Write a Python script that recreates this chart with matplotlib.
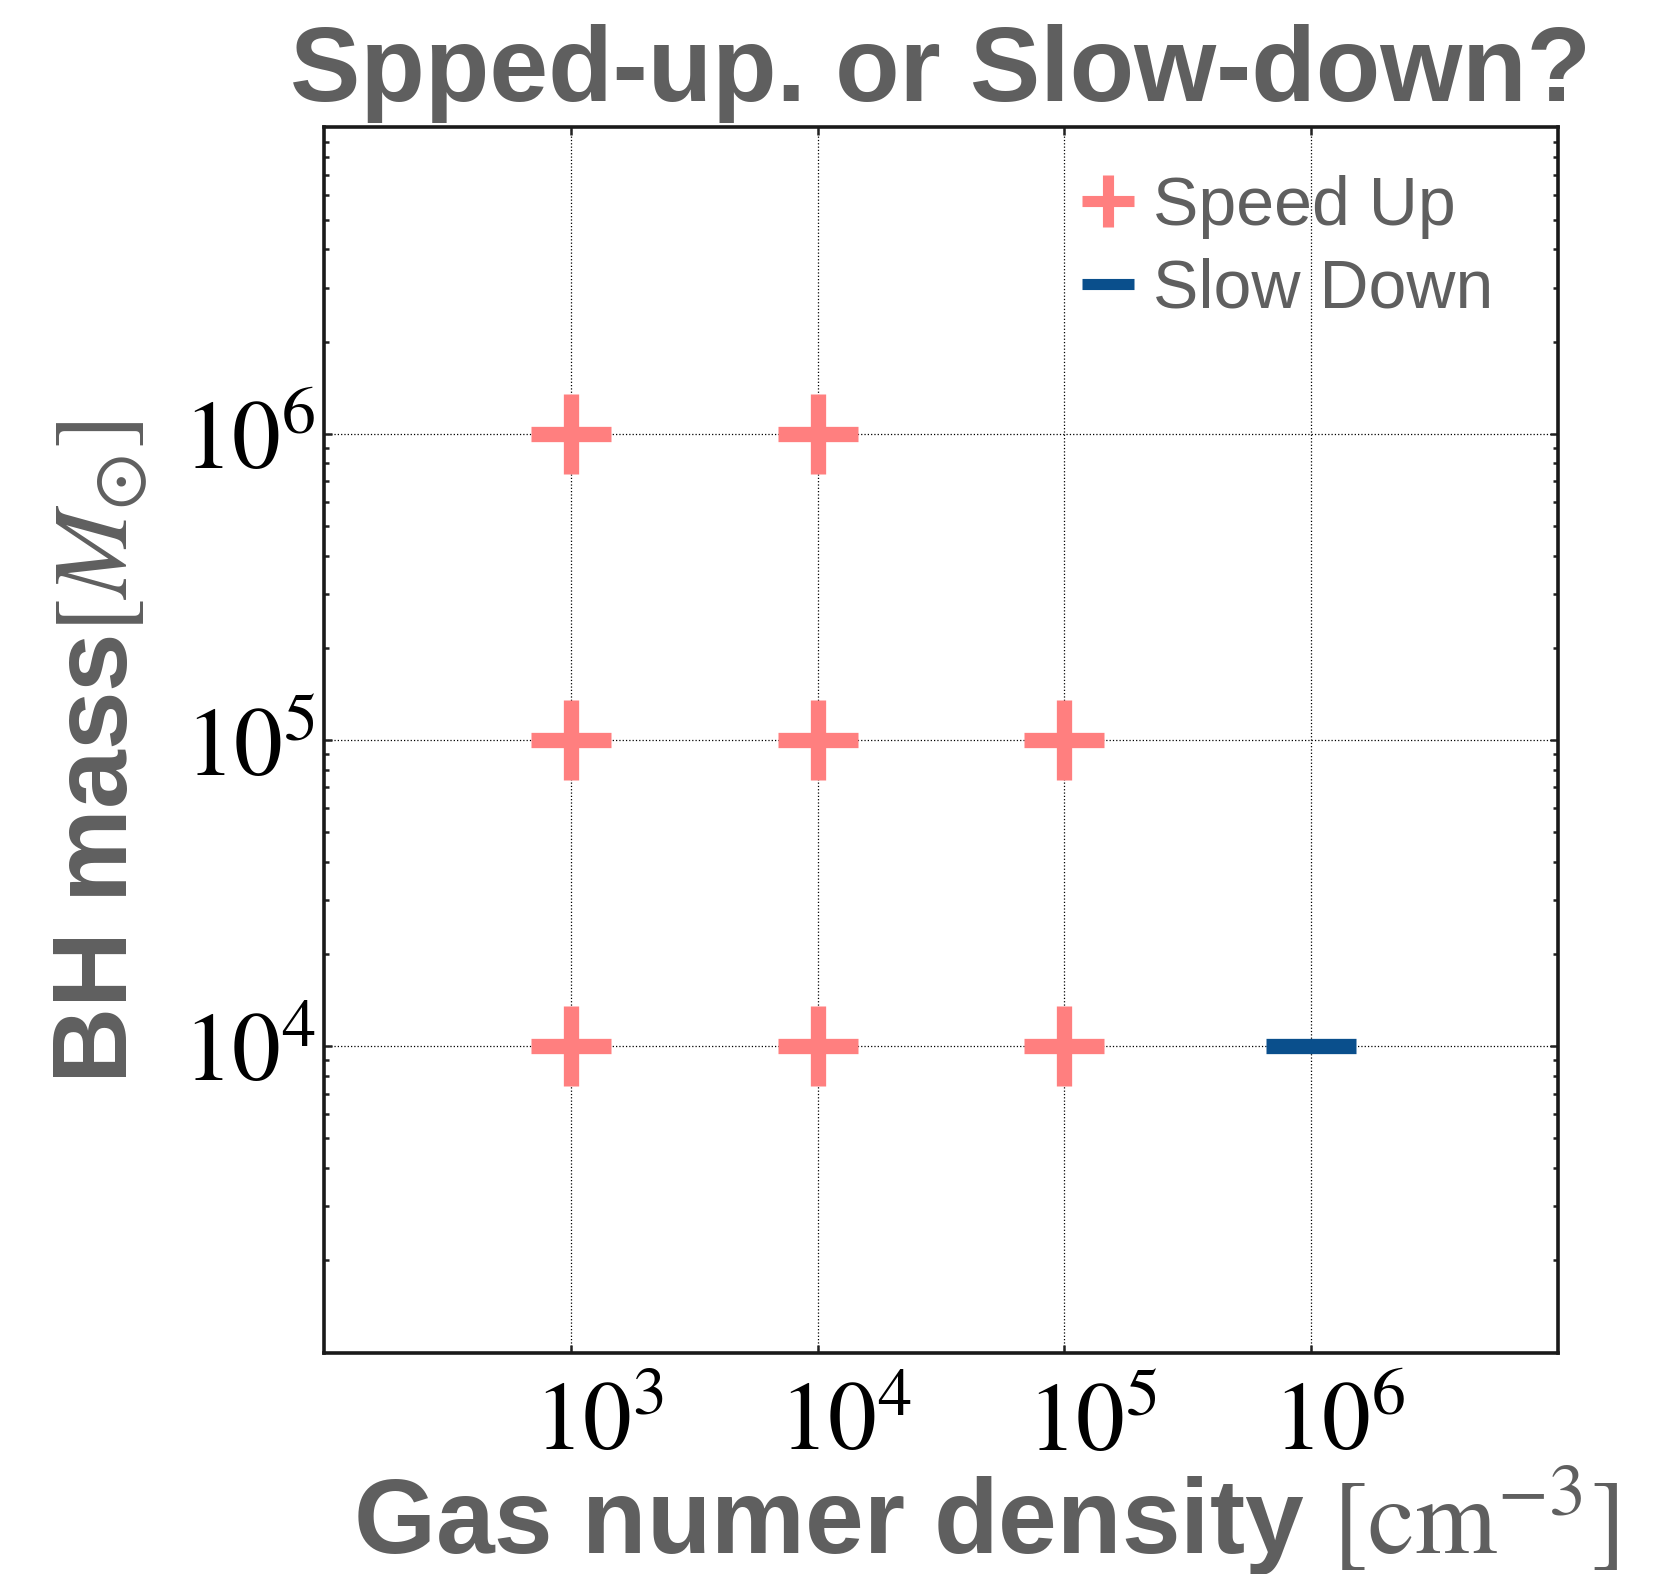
import math
import matplotlib
matplotlib.use("Agg")
import matplotlib.pyplot as plt
from matplotlib.transforms import ScaledTranslation

# data
density_up = [1e3, 1e4, 1e3, 1e4, 1e5, 1e3, 1e4, 1e5]
mass_up = [1e6, 1e6, 1e5, 1e5, 1e5, 1e4, 1e4, 1e4]
density_down = [1e6]
mass_down = [1e4]
xticks = [1e3, 1e4, 1e5, 1e6]
yticks = [1e4, 1e5, 1e6]

gray = "#5f5f5f"
pink = "#ff7f7f"
blue = "#0a4f8c"

plt.rcParams["font.family"] = ["Liberation Sans", "DejaVu Sans"]
plt.rcParams["mathtext.fontset"] = "stix"

fig = plt.figure(figsize=(16.66, 15.74), dpi=100)
ax = fig.add_axes([0.1945, 0.1407, 0.9352 - 0.1945, 0.919 - 0.1407])

ax.plot(density_up, mass_up, ls="none", marker="+", ms=57, mew=11,
        color=pink, label="Speed Up")
ax.plot(density_down, mass_down, ls="none", marker="_", ms=65, mew=11,
        color=blue, label="Slow Down")

ax.set_xscale("log")
ax.set_yscale("log")
ax.set_xlim(1e2, 1e7)
ax.set_ylim(1e3, 1e7)

ax.set_xticks(xticks, labels=[r"$10^{%d}$" % round(math.log10(v)) for v in xticks])
ax.set_yticks(yticks, labels=[r"$10^{%d}$" % round(math.log10(v)) for v in yticks])
ax.tick_params(which="both", direction="in", top=True, right=True, width=1.8, color="#222222")
ax.tick_params(which="major", length=6, labelsize=70, pad=20)
ax.tick_params(axis="y", which="major", pad=6)
ax.tick_params(which="minor", length=3.5)
for lab in ax.get_xticklabels():
    lab.set_transform(lab.get_transform() + ScaledTranslation(0.28, 0, fig.dpi_scale_trans))

for s in ax.spines.values():
    s.set_linewidth(2.6)
    s.set_color("#1a1a1a")

ax.grid(True, which="major", ls=":", lw=0.9, color="black")

ax.set_title("Spped-up. or Slow-down?", fontsize=76, fontweight="bold", color=gray, pad=19)

fig.text(985 / 1666, 1 - 1553 / 1574, r"Gas numer density $[\mathrm{cm}^{-3}]$",
         fontsize=76, fontweight="bold", color=gray, ha="center", va="baseline")
fig.text(101 / 1666, 1 - 752 / 1574, r"BH mass$[M_{\odot}]$",
         fontsize=76, fontweight="bold", color=gray, ha="center", va="center", rotation=90)

leg = ax.legend(loc="upper right", bbox_to_anchor=(1.0, 1.014), frameon=False,
                fontsize=49, labelcolor=gray,
                handlelength=1.0, handletextpad=0.16, labelspacing=0.27,
                borderaxespad=0.6, borderpad=0.35)
for h in leg.legend_handles:
    h.set_markersize(38)
    h.set_markeredgewidth(8)

fig.savefig("out.png", dpi=100)
